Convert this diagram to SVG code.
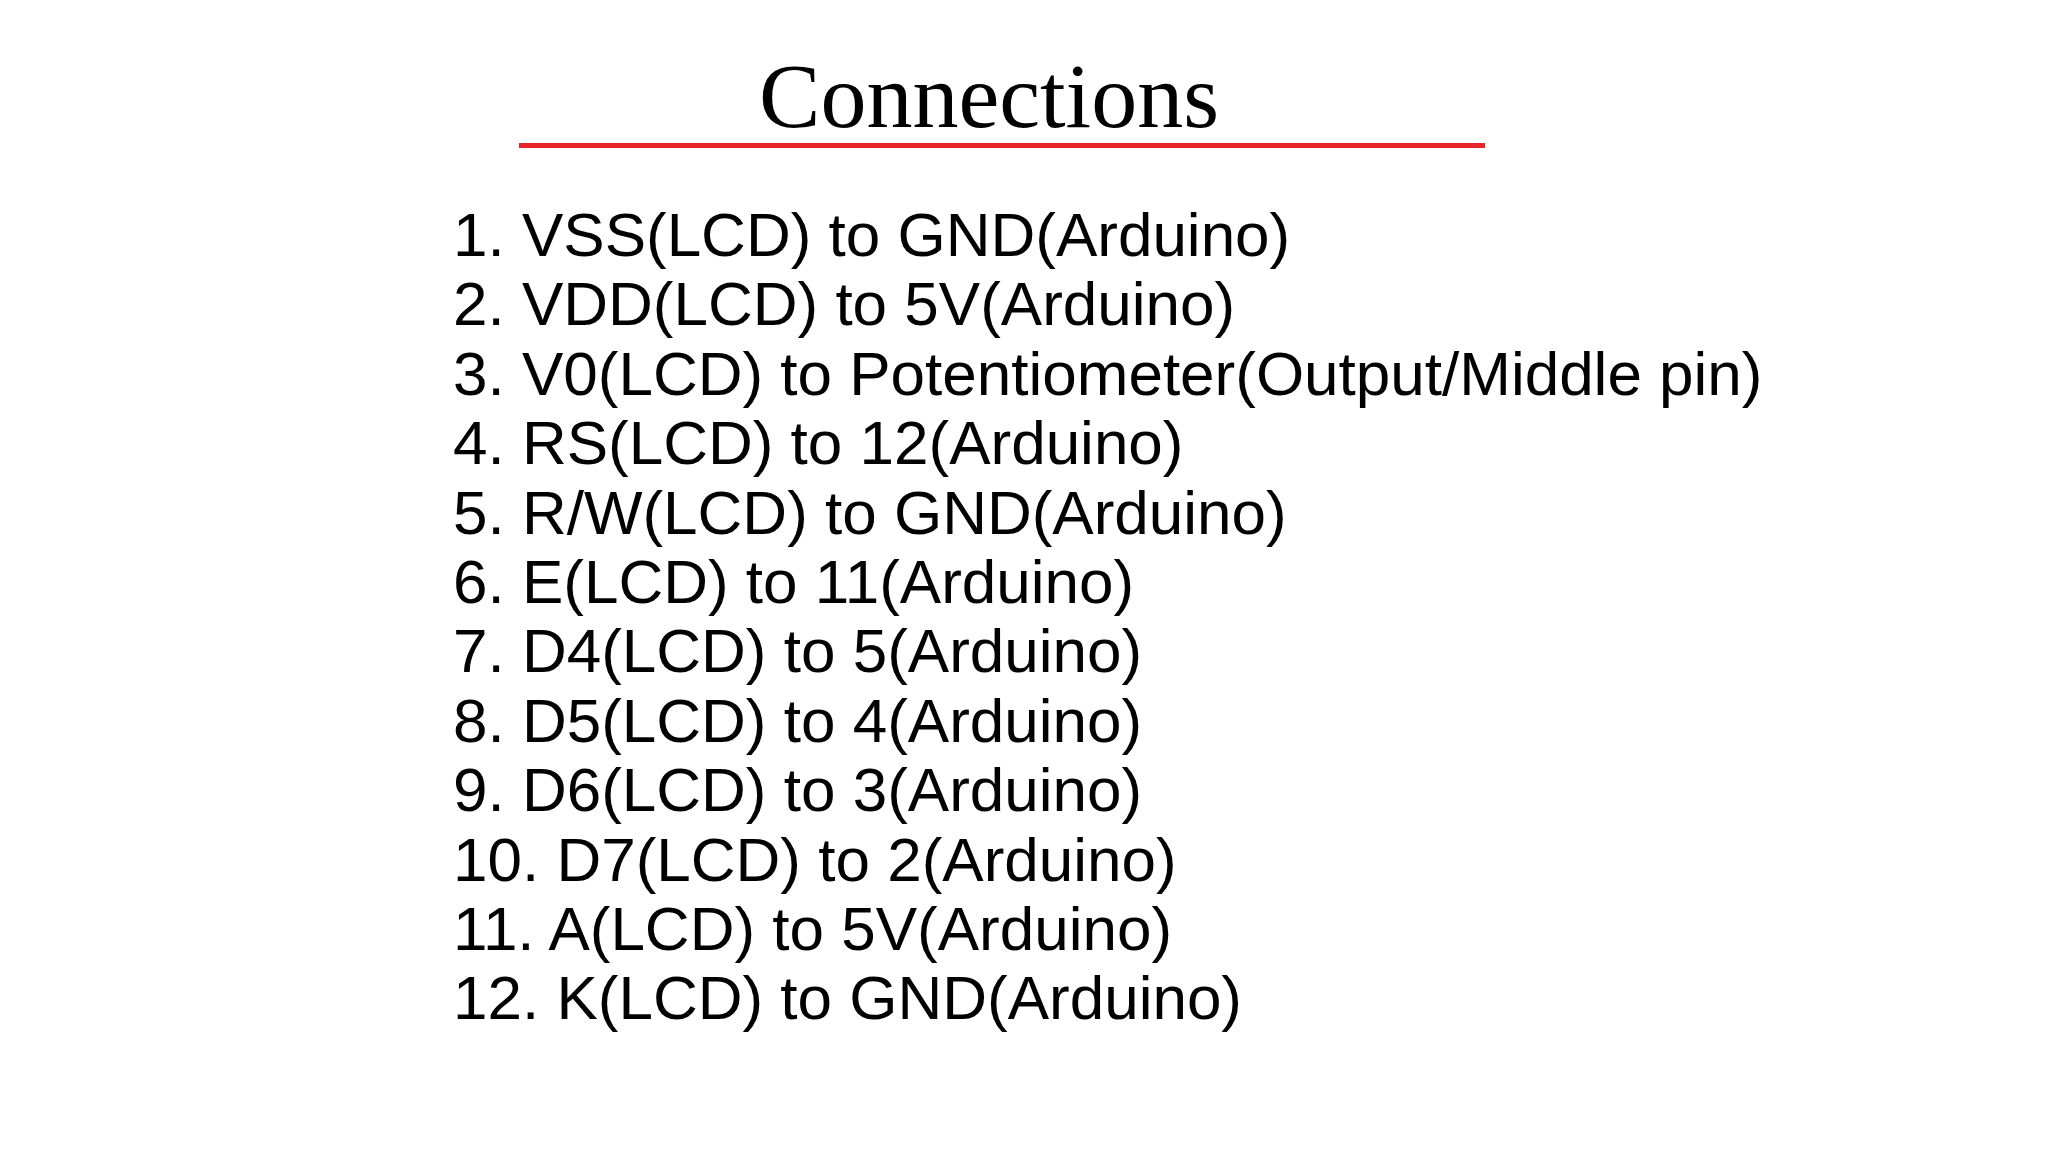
<svg xmlns="http://www.w3.org/2000/svg" width="2048" height="1150" viewBox="0 0 2048 1150">
<style>
.t{font-family:"Liberation Serif",serif;font-size:92px;fill:#000}
.l{font-family:"Liberation Sans",Arial,sans-serif;font-size:62px;fill:#000}
</style>
<rect width="2048" height="1150" fill="#fff"/>
<g id="title">
<text class="t" x="989" y="127" text-anchor="middle">Connections</text>
<rect x="519" y="143" width="966" height="5" fill="#e8262a"/>
</g>
<g id="list">
<text class="l" x="453" y="256">1. VSS(LCD) to GND(Arduino)</text>
<text class="l" x="453" y="325.4">2. VDD(LCD) to 5V(Arduino)</text>
<text class="l" x="453" y="394.8">3. V0(LCD) to Potentiometer(Output/Middle pin)</text>
<text class="l" x="453" y="464.2">4. RS(LCD) to 12(Arduino)</text>
<text class="l" x="453" y="533.6">5. R/W(LCD) to GND(Arduino)</text>
<text class="l" x="453" y="603">6. E(LCD) to 11(Arduino)</text>
<text class="l" x="453" y="672.4">7. D4(LCD) to 5(Arduino)</text>
<text class="l" x="453" y="741.8">8. D5(LCD) to 4(Arduino)</text>
<text class="l" x="453" y="811.2">9. D6(LCD) to 3(Arduino)</text>
<text class="l" x="453" y="880.6">10. D7(LCD) to 2(Arduino)</text>
<text class="l" x="453" y="950">11. A(LCD) to 5V(Arduino)</text>
<text class="l" x="453" y="1019.4">12. K(LCD) to GND(Arduino)</text>
</g>
</svg>
